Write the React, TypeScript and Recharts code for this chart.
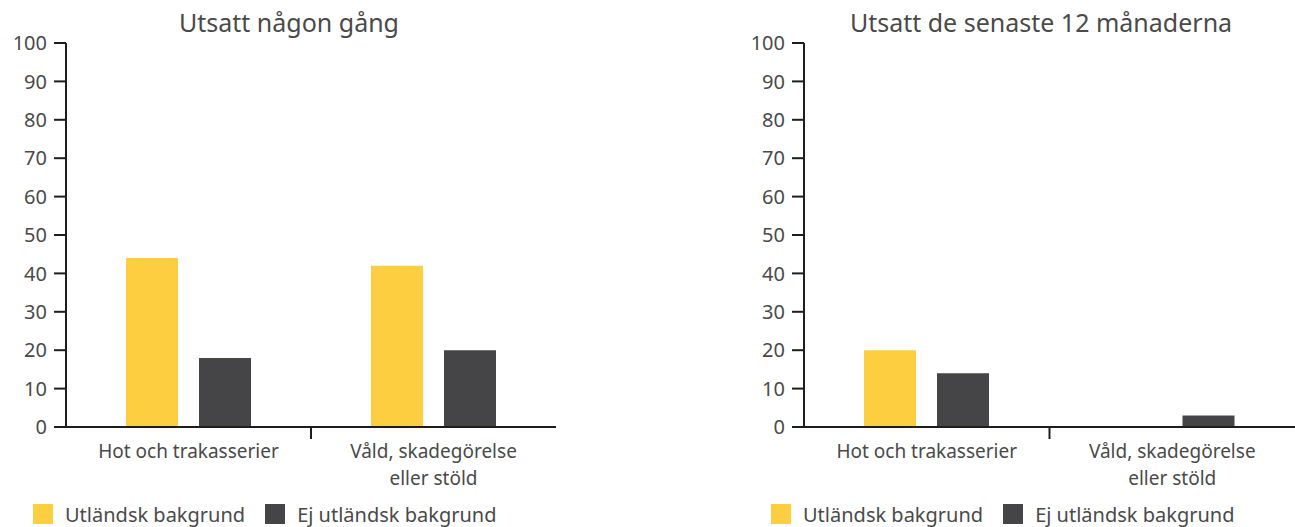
import { BarChart, Bar, XAxis, YAxis, Legend } from "recharts";

const categories = ["Hot och trakasserier", "Våld, skadegörelse eller stöld"];
const everForeign = [44, 42];
const everNative = [18, 20];
const recentForeign = [20, 0];
const recentNative = [14, 3];
const yTicks = [0, 10, 20, 30, 40, 50, 60, 70, 80, 90, 100];
const seriesNames = ["Utländsk bakgrund", "Ej utländsk bakgrund"];

const YELLOW = "#fdce3f";
const DARK = "#454547";
const TEXT = "#4a4a4a";
const AXIS = "#1e1e1e";
const FONT = "'Noto Sans', sans-serif";

function wrapLabel(text: string, max: number) {
  const lines: string[] = [];
  let cur = "";
  for (const w of text.split(" ")) {
    const next = cur ? cur + " " + w : w;
    if (next.length > max && cur) {
      lines.push(cur);
      cur = w;
    } else cur = next;
  }
  if (cur) lines.push(cur);
  return lines;
}

// category label plus a tick mark on the boundary between categories
function CategoryTick(props: any) {
  const { x, y, payload, index, visibleTicksCount, width } = props;
  const lines = wrapLabel(String(payload.value), 20);
  const half = width && visibleTicksCount ? width / (2 * visibleTicksCount) : 0;
  return (
    <g>
      {half > 0 && index < visibleTicksCount - 1 && (
        <line x1={x + half} x2={x + half} y1={y} y2={y + 12} stroke={AXIS} strokeWidth={2} />
      )}
      {lines.map((l, i) => (
        <text key={i} x={x} y={y + 31 + i * 26.5} textAnchor="middle" fill={TEXT} fontSize={19} fontFamily={FONT}>
          {l}
        </text>
      ))}
    </g>
  );
}

function LegendContent() {
  const colors = [YELLOW, DARK];
  return (
    <div style={{ display: "flex", alignItems: "flex-start", height: 30, fontFamily: FONT, fontSize: 20, color: TEXT }}>
      {seriesNames.map((n, i) => (
        <div key={n} style={{ display: "flex", alignItems: "flex-start", marginRight: 20 }}>
          <span style={{ width: 20, height: 20, background: colors[i], display: "inline-block", marginTop: 7, marginRight: 12 }} />
          <span style={{ lineHeight: "20px", marginTop: 8, whiteSpace: "nowrap" }}>{n}</span>
        </div>
      ))}
    </div>
  );
}

interface PanelProps {
  title: string;
  foreign: number[];
  native: number[];
  width: number;
  marginLeft: number;
  marginRight: number;
  titleCenter: number;
}

function Panel({ title, foreign, native, width, marginLeft, marginRight, titleCenter }: PanelProps) {
  const data = categories.map((name, i) => ({ name, foreign: foreign[i], native: native[i] }));
  return (
    <div style={{ position: "relative", width, height: 527 }}>
      <div
        style={{
          position: "absolute",
          left: titleCenter - 250,
          width: 500,
          top: 7,
          textAlign: "center",
          fontFamily: FONT,
          fontSize: 25,
          color: TEXT,
          lineHeight: "30px",
        }}
      >
        {title}
      </div>
      <BarChart
        width={width}
        height={527}
        data={data}
        margin={{ top: 43, right: marginRight, bottom: 0, left: marginLeft }}
        barCategoryGap={60}
        barGap={21}
        barSize={52}
      >
        <YAxis
          width={50}
          domain={[0, 100]}
          ticks={yTicks}
          interval={0}
          tickSize={12}
          tickMargin={7}
          axisLine={{ stroke: AXIS, strokeWidth: 2 }}
          tickLine={{ stroke: AXIS, strokeWidth: 2 }}
          tick={{ fill: TEXT, fontSize: 20, fontFamily: FONT }}
        />
        <XAxis
          dataKey="name"
          height={70}
          interval={0}
          tickSize={0}
          tickMargin={0}
          tickLine={false}
          axisLine={{ stroke: AXIS, strokeWidth: 2 }}
          tick={<CategoryTick />}
        />
        <Legend
          verticalAlign="bottom"
          align="left"
          content={<LegendContent />}
          wrapperStyle={{ left: marginLeft + 50 - 33, bottom: 0, width: "auto" }}
        />
        <Bar dataKey="foreign" name={seriesNames[0]} fill={YELLOW} isAnimationActive={false} />
        <Bar dataKey="native" name={seriesNames[1]} fill={DARK} isAnimationActive={false} />
      </BarChart>
    </div>
  );
}

export default function App() {
  return (
    <div style={{ position: "absolute", left: 0, top: 0, width: 1295, height: 527, background: "#fff", display: "flex" }}>
      <Panel title="Utsatt någon gång" foreign={everForeign} native={everNative} width={700} marginLeft={16} marginRight={144} titleCenter={289} />
      <Panel title="Utsatt de senaste 12 månaderna" foreign={recentForeign} native={recentNative} width={595} marginLeft={54} marginRight={0} titleCenter={341} />
    </div>
  );
}
